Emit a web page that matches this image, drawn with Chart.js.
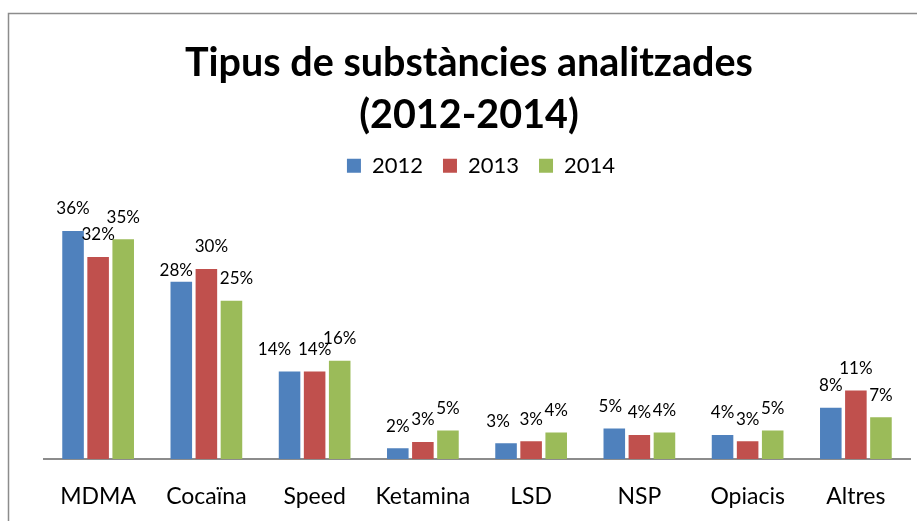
<!DOCTYPE html>
<html>
<head>
<meta charset="utf-8">
<script src="https://cdn.jsdelivr.net/npm/chart.js@4"></script>
<style>
html,body{margin:0;padding:0;background:#fff;overflow:hidden;}
#wrap{width:917px;height:521px;position:relative;}
</style>
</head>
<body>
<div id="wrap"><canvas id="c" width="917" height="521"></canvas></div>
<script>
const categories = ["MDMA","Cocaïna","Speed","Ketamina","LSD","NSP","Opiacis","Altres"];
const seriesNames = ["2012","2013","2014"];
const values2012 = [36, 28, 13.8, 1.7, 2.5, 4.8, 3.8, 8.1];
const values2013 = [31.9, 30, 13.8, 2.7, 2.8, 3.8, 2.8, 10.8];
const values2014 = [34.7, 25, 15.5, 4.5, 4.2, 4.2, 4.5, 6.6];
const dataLabels2012 = ["36%","28%","14%","2%","3%","5%","4%","8%"];
const dataLabels2013 = ["32%","30%","14%","3%","3%","4%","3%","11%"];
const dataLabels2014 = ["35%","25%","16%","5%","4%","4%","5%","7%"];
const titleLines = ["Tipus de substàncies analitzades","(2012-2014)"];
const colors = ["#4F81BD","#C0504D","#9BBB59"];
const allLabels = [dataLabels2012, dataLabels2013, dataLabels2014];
// small label nudges (dx, dy) used to avoid overlapping labels, like the original
const labelNudge = {"0-1":[-5,11],"1-1":[5,0],"2-1":[5,0],"0-2":[-15,0],"0-4":[-8,0],"0-5":[-4,0]};

const frame = {
  id:'frame',
  beforeDraw(chart){
    const ctx = chart.ctx;
    ctx.save();
    ctx.strokeStyle = '#8c8c8c';
    ctx.lineWidth = 1.5;
    ctx.strokeRect(8.5, 13.5, 2000, 2000);
    ctx.restore();
  }
};
const shift = {
  id:'shift',
  afterLayout(chart){
    chart.titleBlock.left += 14; chart.titleBlock.right += 14;
    chart.legend.left += 26; chart.legend.right += 26;
    chart.legend.top -= 19; chart.legend.bottom -= 19;
  }
};
const valueLabels = {
  id:'valueLabels',
  afterDatasetsDraw(chart){
    const ctx = chart.ctx;
    ctx.save();
    ctx.font = '17px Lato';
    ctx.fillStyle = '#000';
    ctx.textAlign = 'center';
    ctx.textBaseline = 'middle';
    chart.data.datasets.forEach((ds, i) => {
      chart.getDatasetMeta(i).data.forEach((bar, j) => {
        const n = labelNudge[i + '-' + j] || [0, 0];
        ctx.fillText(allLabels[i][j], bar.x + n[0], bar.y - 22 + n[1]);
      });
    });
    ctx.restore();
  }
};

new Chart(document.getElementById('c'), {
  type:'bar',
  data:{
    labels: categories,
    datasets:[
      {label:seriesNames[0], data:values2012, backgroundColor:colors[0]},
      {label:seriesNames[1], data:values2013, backgroundColor:colors[1]},
      {label:seriesNames[2], data:values2014, backgroundColor:colors[2]}
    ]
  },
  options:{
    responsive:false,
    animation:false,
    events:[],
    layout:{padding:{left:0,right:7,top:0,bottom:0}},
    datasets:{bar:{categoryPercentage:0.695, barPercentage:0.86}},
    scales:{
      x:{
        grid:{display:false},
        border:{display:true,color:'#8c8c8c',width:2},
        ticks:{color:'#000',font:{family:'Lato',size:23},padding:16,maxRotation:0},
        afterFit(s){ s.height = 62; }
      },
      y:{
        min:0,max:40,
        grid:{display:false},
        border:{display:false},
        ticks:{display:false},
        afterFit(s){ s.width = 44; }
      }
    },
    plugins:{
      tooltip:{enabled:false},
      title:{
        display:true,
        text:titleLines,
        color:'#000',
        font:{family:'Lato',size:39.5,weight:'bold',lineHeight:1.32},
        padding:{top:37,bottom:12.4}
      },
      legend:{
        display:true,
        labels:{color:'#000',font:{family:'Lato',size:22},boxWidth:14,boxHeight:14,padding:20}
      }
    }
  },
  plugins:[frame, shift, valueLabels]
});
</script>
</body>
</html>
